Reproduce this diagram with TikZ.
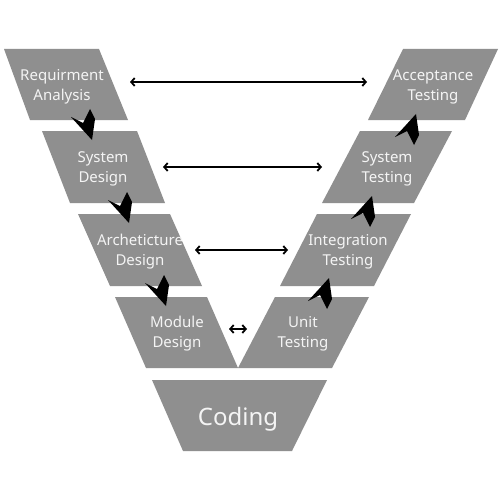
\documentclass[tikz,border=0pt]{standalone}
\usepackage{fontspec}
\setmainfont{Noto Sans}
\usetikzlibrary{arrows.meta}
\definecolor{boxgray}{HTML}{8F8F8F}
\definecolor{txtwhite}{HTML}{F4F4F4}
\tikzset{
  stage/.style={fill=boxgray, draw=none},
  lbl/.style={text=txtwhite, align=center, font=\fontsize{15}{20}\selectfont, inner sep=0pt},
  biglbl/.style={text=txtwhite, font=\fontsize{24}{28}\selectfont, inner sep=0pt, anchor=base},
  link/.style={black, line width=1.8pt, {Straight Barb[length=3.5pt,width=8pt]}-{Straight Barb[length=3.5pt,width=8pt]}},
  chev/.style={fill=black, draw=none}
}
\newcommand\chevdown[1]{\fill[chev] (#1) -- +(3,-21) -- +(-2,-31) -- +(-9,-17) -- +(-21,-23) -- cycle;}
\newcommand\chevup[1]{\fill[chev] (#1) -- +(3,21) -- +(-2,31) -- +(-9,17) -- +(-21,23) -- cycle;}
\begin{document}
\begin{tikzpicture}[x=1pt,y=-1pt]
\fill[white] (0,0) rectangle (500,500);
\useasboundingbox (0,0) rectangle (500,500);
% left branch
\fill[stage] (4,49) -- (99,49) -- (128,120) -- (30,120) -- cycle;
\fill[stage] (42,131) -- (137,131) -- (165,203) -- (70,203) -- cycle;
\fill[stage] (78,214) -- (170,214) -- (202,286) -- (110,286) -- cycle;
\fill[stage] (115,297) -- (207,297) -- (238,368) -- (146,368) -- cycle;
% right branch
\fill[stage] (403,49) -- (498,49) -- (465,120) -- (368,120) -- cycle;
\fill[stage] (360,131) -- (452,131) -- (414,203) -- (322,203) -- cycle;
\fill[stage] (317,214) -- (411,214) -- (374,286) -- (280,286) -- cycle;
\fill[stage] (275,297) -- (369,297) -- (332,368) -- (238,368) -- cycle;
% coding
\fill[stage] (152,380) -- (327,380) -- (292,451) -- (183,451) -- cycle;
% labels
\node[lbl] (ra) at (62,87) {Requirment\\Analysis};
\node[lbl] (sd) at (103,169) {System\\Design};
\node[lbl] (ad) at (140,252) {Archeticture\\Design};
\node[lbl] (md) at (177,334) {Module\\Design};
\node[lbl] (at) at (433,87) {Acceptance\\Testing};
\node[lbl] (st) at (387,169) {System\\Testing};
\node[lbl] (it) at (348,252) {Integration\\Testing};
\node[lbl] (ut) at (303,334) {Unit\\Testing};
\node[biglbl] (cd) at (238,425) {Coding};
% verification links
\coordinate (l1) at (130,82);  \coordinate (r1) at (367,82);
\coordinate (l2) at (163,167); \coordinate (r2) at (322,167);
\coordinate (l3) at (195,250); \coordinate (r3) at (288,250);
\coordinate (l4) at (229,329); \coordinate (r4) at (247,329);
\draw[link] (l1) -- (r1);
\draw[link] (l2) -- (r2);
\draw[link] (l3) -- (r3);
\draw[link] (l4) -- (r4);
% flow chevrons
\coordinate (c1) at (92,140);
\coordinate (c2) at (129,223);
\coordinate (c3) at (166,306);
\coordinate (u1) at (329,278);
\coordinate (u2) at (372,196);
\coordinate (u3) at (416,114);
\chevdown{c1}
\chevdown{c2}
\chevdown{c3}
\chevup{u1}
\chevup{u2}
\chevup{u3}
\end{tikzpicture}
\end{document}
